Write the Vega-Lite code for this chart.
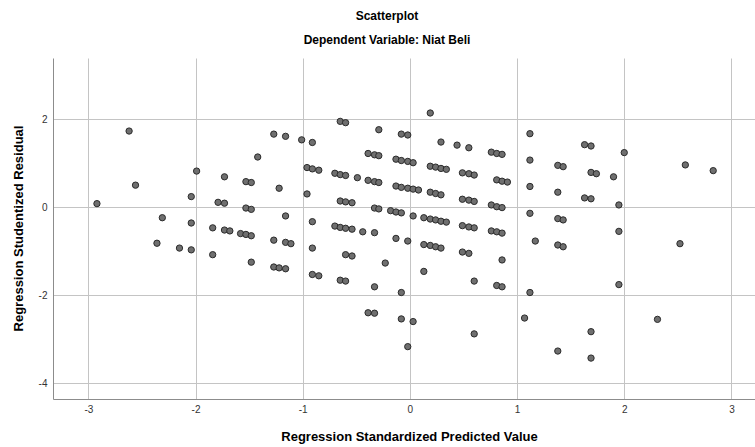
{
  "$schema": "https://vega.github.io/schema/vega-lite/v6.json",
  "autosize": "none",
  "padding": {"left": 53, "top": 58, "right": 0, "bottom": 48},
  "width": 702,
  "height": 341,
  "background": "white",
  "title": {
    "text": "Scatterplot",
    "subtitle": "Dependent Variable: Niat Beli",
    "anchor": "middle",
    "dx": -17,
    "offset": 11,
    "font": "Liberation Sans",
    "fontSize": 12,
    "fontWeight": "bold",
    "color": "#000000",
    "subtitleFont": "Liberation Sans",
    "subtitleFontSize": 12,
    "subtitleFontWeight": "bold",
    "subtitleColor": "#000000",
    "subtitlePadding": 12
  },
  "config": {
    "view": {"stroke": null},
    "axis": {
      "labelFont": "Liberation Sans",
      "labelFontSize": 10,
      "labelColor": "#333333",
      "titleFont": "Liberation Sans",
      "titleFontSize": 13,
      "titleFontWeight": "bold",
      "titleColor": "#000000",
      "gridColor": "#c4c4c4",
      "gridWidth": 1,
      "gridOpacity": 1,
      "domainColor": "#8c8c8c",
      "domainWidth": 1,
      "ticks": false
    }
  },
  "data": {
    "values": [
      {"pred": -2.92, "resid": 0.08}, {"pred": -2.62, "resid": 1.73}, {"pred": -2.56, "resid": 0.5},
      {"pred": -2.36, "resid": -0.82}, {"pred": -2.31, "resid": -0.24}, {"pred": -2.15, "resid": -0.93},
      {"pred": -2.04, "resid": 0.24}, {"pred": -2.04, "resid": -0.36}, {"pred": -2.04, "resid": -0.97},
      {"pred": -1.99, "resid": 0.82}, {"pred": -1.84, "resid": -0.47}, {"pred": -1.84, "resid": -1.08},
      {"pred": -1.79, "resid": 0.11}, {"pred": -1.73, "resid": 0.09}, {"pred": -1.73, "resid": 0.69},
      {"pred": -1.73, "resid": -0.52}, {"pred": -1.68, "resid": -0.54}, {"pred": -1.58, "resid": -0.6},
      {"pred": -1.53, "resid": -0.62}, {"pred": -1.48, "resid": -0.65}, {"pred": -1.53, "resid": 0.58},
      {"pred": -1.48, "resid": 0.56}, {"pred": -1.53, "resid": -0.02}, {"pred": -1.48, "resid": -0.05},
      {"pred": -1.48, "resid": -1.25}, {"pred": -1.42, "resid": 1.14}, {"pred": -1.27, "resid": 1.66},
      {"pred": -1.22, "resid": 0.43}, {"pred": -1.27, "resid": -0.75}, {"pred": -1.27, "resid": -1.36},
      {"pred": -1.22, "resid": -1.38}, {"pred": -1.16, "resid": -1.4}, {"pred": -1.16, "resid": 1.61},
      {"pred": -1.16, "resid": -0.2}, {"pred": -1.16, "resid": -0.8}, {"pred": -1.11, "resid": -0.83},
      {"pred": -1.01, "resid": 1.53}, {"pred": -0.96, "resid": 0.9}, {"pred": -0.91, "resid": 0.87},
      {"pred": -0.85, "resid": 0.84}, {"pred": -0.96, "resid": 0.3}, {"pred": -0.91, "resid": 1.47},
      {"pred": -0.91, "resid": -0.33}, {"pred": -0.91, "resid": -0.93}, {"pred": -0.91, "resid": -1.53},
      {"pred": -0.85, "resid": -1.56}, {"pred": -0.7, "resid": 0.77}, {"pred": -0.65, "resid": 0.74},
      {"pred": -0.6, "resid": 0.72}, {"pred": -0.49, "resid": 0.67}, {"pred": -0.65, "resid": 1.95},
      {"pred": -0.6, "resid": 1.92}, {"pred": -0.65, "resid": 0.14}, {"pred": -0.6, "resid": 0.12},
      {"pred": -0.54, "resid": 0.1}, {"pred": -0.7, "resid": -0.43}, {"pred": -0.65, "resid": -0.46},
      {"pred": -0.6, "resid": -0.48}, {"pred": -0.54, "resid": -0.5}, {"pred": -0.6, "resid": -1.08},
      {"pred": -0.54, "resid": -1.11}, {"pred": -0.65, "resid": -1.66}, {"pred": -0.6, "resid": -1.68},
      {"pred": -0.44, "resid": -0.56}, {"pred": -0.39, "resid": 1.22}, {"pred": -0.33, "resid": 1.19},
      {"pred": -0.29, "resid": 1.17}, {"pred": -0.39, "resid": 0.61}, {"pred": -0.33, "resid": 0.58},
      {"pred": -0.29, "resid": 0.56}, {"pred": -0.29, "resid": 1.76}, {"pred": -0.33, "resid": -0.02},
      {"pred": -0.29, "resid": -0.04}, {"pred": -0.33, "resid": -0.58}, {"pred": -0.33, "resid": -1.81},
      {"pred": -0.39, "resid": -2.4}, {"pred": -0.33, "resid": -2.41}, {"pred": -0.23, "resid": -1.27},
      {"pred": -0.18, "resid": -0.08}, {"pred": -0.13, "resid": -0.11}, {"pred": -0.08, "resid": -0.13},
      {"pred": -0.13, "resid": 1.09}, {"pred": -0.08, "resid": 1.06}, {"pred": -0.02, "resid": 1.04},
      {"pred": 0.03, "resid": 1.01}, {"pred": -0.13, "resid": 0.48}, {"pred": -0.08, "resid": 0.45},
      {"pred": -0.02, "resid": 0.43}, {"pred": 0.03, "resid": 0.41}, {"pred": 0.08, "resid": 0.39},
      {"pred": -0.13, "resid": -0.71}, {"pred": -0.02, "resid": -0.77}, {"pred": -0.08, "resid": 1.66},
      {"pred": -0.02, "resid": 1.64}, {"pred": -0.08, "resid": -1.94}, {"pred": -0.08, "resid": -2.54},
      {"pred": 0.03, "resid": -2.6}, {"pred": -0.02, "resid": -3.17}, {"pred": 0.03, "resid": -0.2},
      {"pred": 0.13, "resid": -0.24}, {"pred": 0.19, "resid": -0.27}, {"pred": 0.24, "resid": -0.29},
      {"pred": 0.29, "resid": -0.32}, {"pred": 0.34, "resid": -0.34}, {"pred": 0.19, "resid": 2.14},
      {"pred": 0.29, "resid": 1.48}, {"pred": 0.19, "resid": 0.93}, {"pred": 0.24, "resid": 0.91},
      {"pred": 0.29, "resid": 0.88}, {"pred": 0.34, "resid": 0.86}, {"pred": 0.19, "resid": 0.34},
      {"pred": 0.24, "resid": 0.31}, {"pred": 0.29, "resid": 0.28}, {"pred": 0.13, "resid": -0.85},
      {"pred": 0.19, "resid": -0.87}, {"pred": 0.24, "resid": -0.9}, {"pred": 0.29, "resid": -0.93},
      {"pred": 0.13, "resid": -1.46}, {"pred": 0.44, "resid": 1.41}, {"pred": 0.55, "resid": 1.35},
      {"pred": 0.49, "resid": 0.78}, {"pred": 0.55, "resid": 0.76}, {"pred": 0.6, "resid": 0.73},
      {"pred": 0.49, "resid": 0.18}, {"pred": 0.55, "resid": 0.16}, {"pred": 0.6, "resid": 0.13},
      {"pred": 0.49, "resid": -0.42}, {"pred": 0.55, "resid": -0.45}, {"pred": 0.6, "resid": -0.47},
      {"pred": 0.49, "resid": -1.02}, {"pred": 0.55, "resid": -1.05}, {"pred": 0.6, "resid": -1.68},
      {"pred": 0.6, "resid": -2.88}, {"pred": 0.76, "resid": 1.25}, {"pred": 0.81, "resid": 1.22},
      {"pred": 0.86, "resid": 1.2}, {"pred": 0.81, "resid": 0.62}, {"pred": 0.86, "resid": 0.59},
      {"pred": 0.91, "resid": 0.57}, {"pred": 0.76, "resid": 0.05}, {"pred": 0.81, "resid": 0.01},
      {"pred": 0.86, "resid": -0.01}, {"pred": 0.76, "resid": -0.54}, {"pred": 0.81, "resid": -0.56},
      {"pred": 0.86, "resid": -0.59}, {"pred": 0.86, "resid": -1.2}, {"pred": 0.81, "resid": -1.78},
      {"pred": 0.86, "resid": -1.81}, {"pred": 1.12, "resid": 1.67}, {"pred": 1.12, "resid": 1.07},
      {"pred": 1.12, "resid": 0.47}, {"pred": 1.12, "resid": -0.14}, {"pred": 1.17, "resid": -0.77},
      {"pred": 1.12, "resid": -1.94}, {"pred": 1.07, "resid": -2.52}, {"pred": 1.38, "resid": 0.95},
      {"pred": 1.43, "resid": 0.92}, {"pred": 1.38, "resid": 0.34}, {"pred": 1.38, "resid": -0.26},
      {"pred": 1.43, "resid": -0.29}, {"pred": 1.38, "resid": -0.86}, {"pred": 1.43, "resid": -0.9},
      {"pred": 1.38, "resid": -3.27}, {"pred": 1.63, "resid": 1.42}, {"pred": 1.69, "resid": 1.39},
      {"pred": 1.69, "resid": 0.79}, {"pred": 1.74, "resid": 0.76}, {"pred": 1.63, "resid": 0.21},
      {"pred": 1.69, "resid": 0.19}, {"pred": 1.69, "resid": -2.83}, {"pred": 1.69, "resid": -3.43},
      {"pred": 1.9, "resid": 0.69}, {"pred": 2.0, "resid": 1.24}, {"pred": 1.95, "resid": 0.05},
      {"pred": 1.95, "resid": -0.55}, {"pred": 1.95, "resid": -1.76}, {"pred": 2.31, "resid": -2.55},
      {"pred": 2.52, "resid": -0.83}, {"pred": 2.57, "resid": 0.96}, {"pred": 2.83, "resid": 0.83}
    ]
  },
  "mark": {"type": "point", "shape": "circle", "filled": true, "size": 40, "fill": "#6f6f6f", "stroke": "#2b2b2b", "strokeWidth": 1, "opacity": 1},
  "encoding": {
    "x": {
      "field": "pred",
      "type": "quantitative",
      "scale": {"domain": [-3.33, 3.22], "nice": false, "zero": false},
      "axis": {
        "title": "Regression Standardized Predicted Value",
        "values": [-3, -2, -1, 0, 1, 2, 3],
        "labelExpr": "'' + datum.value",
        "labelPadding": 5,
        "titleX": 356,
        "titleY": 31,
        "titleBaseline": "top",
        "titleAlign": "center"
      }
    },
    "y": {
      "field": "resid",
      "type": "quantitative",
      "scale": {"domain": [-4.36, 3.39], "nice": false, "zero": false},
      "axis": {
        "title": "Regression Studentized Residual",
        "values": [-4, -2, 0, 2],
        "labelExpr": "'' + datum.value",
        "labelPadding": 6,
        "titleX": -35,
        "titleY": 170,
        "titleAngle": 270,
        "titleAlign": "center",
        "titleBaseline": "middle"
      }
    }
  }
}
